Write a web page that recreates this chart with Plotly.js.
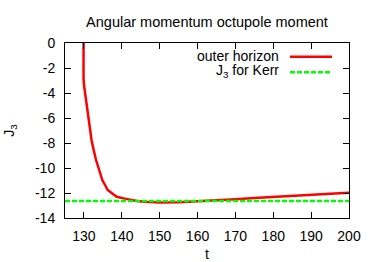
<!DOCTYPE html>
<html><head><meta charset="utf-8">
<script src="https://cdn.plot.ly/plotly-3.0.1.min.js"></script>
<style>html,body{margin:0;padding:0;background:#fff}#chart{width:374px;height:262px}</style>
</head><body><div id="chart"></div>
<script>
var tHorizon = [129.9, 129.87, 129.85, 129.9, 130.02, 130.3, 130.68, 131.07, 131.55, 132.0, 132.6, 133.2, 134.07, 134.85, 135.64, 136.27, 137.66, 138.65, 140.8, 142.2, 144, 146, 148, 150, 155, 160, 165, 170, 175, 180, 185, 190, 195, 200];
var jHorizon = [0, -1, -2, -2.8, -3.36, -4, -4.9, -5.76, -6.8, -7.76, -8.6, -9.36, -10.2, -10.96, -11.4, -11.76, -12.08, -12.3, -12.45, -12.56, -12.64, -12.7, -12.74, -12.76, -12.74, -12.68, -12.58, -12.5, -12.4, -12.3, -12.22, -12.14, -12.06, -11.98];
var tKerr = [125, 200];
var jKerr = [-12.64, -12.64];
var seriesNames = ['outer horizon', 'J<sub>3</sub> for Kerr'];
var xTicks = [130, 140, 150, 160, 170, 180, 190, 200];
var yTicks = [0, -2, -4, -6, -8, -10, -12, -14];

var font = {family: '"Liberation Sans", Arial, Helvetica, sans-serif', size: 14, color: '#000'};
var titleFont = Object.assign({}, font, {size: 14.5});
var traces = [
  {x: tHorizon, y: jHorizon, mode: 'lines', name: seriesNames[0], line: {color: '#ff0000', width: 2.5}, showlegend: false},
  {x: tKerr, y: jKerr, mode: 'lines', name: seriesNames[1], line: {color: '#00ff00', width: 2.5, dash: '5px,2px'}, showlegend: false}
];
var axisCommon = {showgrid: false, zeroline: false, showline: true, linecolor: '#000', linewidth: 1, mirror: 'ticks', ticks: 'inside', ticklen: 6, tickcolor: '#000', tickfont: font};
var layout = {
  width: 374, height: 262,
  margin: {l: 65, r: 25, t: 43, b: 44},
  paper_bgcolor: '#fff', plot_bgcolor: '#fff',
  font: font,
  title: {text: 'Angular momentum octupole moment', font: titleFont, xref: 'paper', x: 0.5, xanchor: 'center', yref: 'container', y: 1 - 22/262, yanchor: 'middle'},
  xaxis: Object.assign({}, axisCommon, {range: [125, 200], tickvals: xTicks, ticktext: xTicks.map(String), ticklabelstandoff: 5, title: {text: 't', font: font, standoff: 10}}),
  yaxis: Object.assign({}, axisCommon, {range: [-14, 0], tickvals: yTicks, ticktext: yTicks.map(String), ticklabelstandoff: 6, title: {text: 'J<sub>3</sub>', font: font, standoff: 17}}),
  annotations: [
    {text: seriesNames[0], xref: 'paper', yref: 'paper', x: (280 - 65) / 284, y: (218 - 56) / 175, xanchor: 'right', yanchor: 'middle', showarrow: false, font: font, borderpad: 0},
    {text: seriesNames[1], xref: 'paper', yref: 'paper', x: (280 - 65) / 284, y: (218 - 71) / 175, xanchor: 'right', yanchor: 'middle', showarrow: false, font: font, borderpad: 0}
  ],
  shapes: [
    {type: 'line', xref: 'paper', yref: 'paper', x0: (290 - 65) / 284, x1: (332 - 65) / 284, y0: (218 - 56.7) / 175, y1: (218 - 56.7) / 175, line: {color: '#ff0000', width: 2.5}},
    {type: 'line', xref: 'paper', yref: 'paper', x0: (290 - 65) / 284, x1: (332 - 65) / 284, y0: (218 - 72.3) / 175, y1: (218 - 72.3) / 175, line: {color: '#00ff00', width: 2.5, dash: '5px,2px'}}
  ]
};
Plotly.newPlot('chart', traces, layout, {staticPlot: true, displayModeBar: false});
</script></body></html>
